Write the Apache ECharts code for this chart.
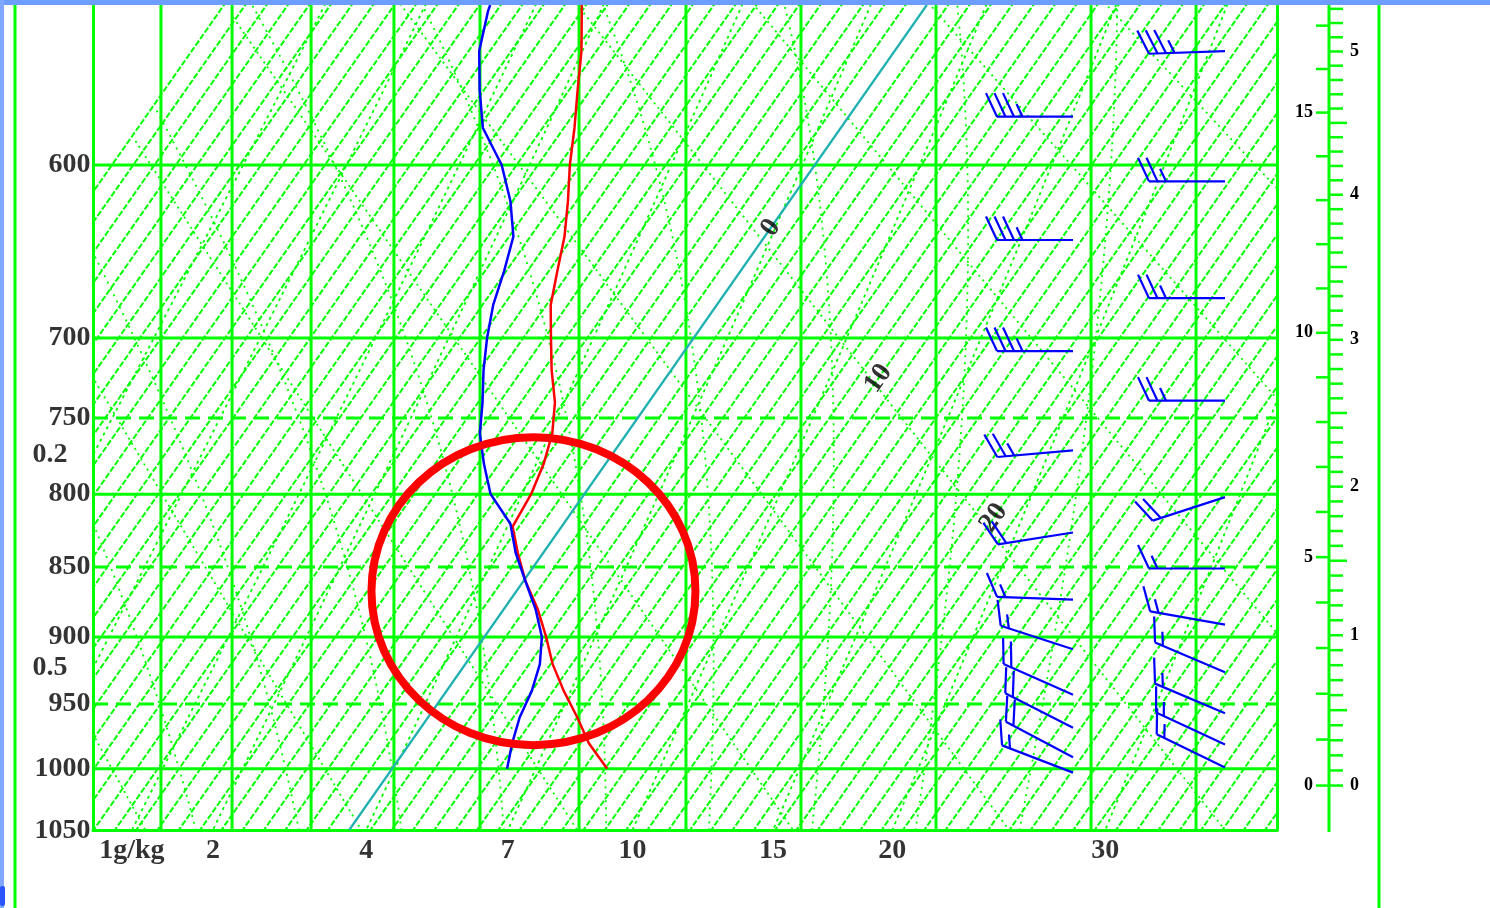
<!DOCTYPE html>
<html>
<head>
<meta charset="utf-8">
<title>Sounding</title>
<script src="https://cdn.jsdelivr.net/npm/echarts@6.0.0/dist/echarts.min.js"></script>
<style>
  html, body { margin: 0; padding: 0; background: #ffffff; }
  #chart { width: 1490px; height: 908px; }
</style>
</head>
<body>
<div id="chart"></div>
<script>
// ---------------- sounding data ----------------
// temperature profile (hPa, °C)
const tempLevels  = [517, 520, 540, 560, 580, 600, 620, 640, 660, 680, 700, 720, 740, 760, 780, 800, 822, 840, 860, 880, 900, 920, 940, 960, 980, 1000];
const temperature = [-16.2, -16.0, -14.7, -13.6, -12.5, -11.5, -10.4, -9.4, -8.6, -7.8, -6.7, -5.6, -4.4, -3.5, -2.9, -2.5, -2.3, -1.2, 0.1, 1.6, 2.9, 4.1, 5.5, 7.0, 8.4, 10.1];
// dew point profile (hPa, °C)
const dewLevels   = [517, 520, 540, 560, 580, 600, 620, 640, 660, 680, 700, 720, 740, 760, 780, 800, 820, 840, 860, 880, 900, 920, 940, 960, 980, 1000];
const dewpoint    = [-20.5, -20.4, -19.5, -18.2, -16.8, -14.7, -13.1, -11.8, -11.1, -10.5, -9.7, -8.8, -7.8, -6.9, -5.7, -4.4, -2.5, -1.3, 0.1, 1.5, 2.7, 3.5, 4.0, 4.3, 4.8, 5.4];

// winds, first column (hPa, direction deg, speed kt)
const windPressA = [574, 642, 708, 771, 826, 873, 909, 943, 968, 991, 1003];
const windDirA   = [270, 270, 270, 265, 261, 272, 288, 294, 297, 298, 291];
const windSpdA   = [35, 35, 35, 25, 20, 15, 15, 20, 20, 20, 15];
// winds, second column
const windPressB = [540, 609, 676, 739, 802, 851, 891, 926, 957, 981, 999];
const windDirB   = [268, 270, 270, 270, 252, 270, 280, 293, 293, 295, 296];
const windSpdB   = [35, 25, 25, 25, 20, 15, 15, 15, 15, 15, 15];

// pressure grid and tick labels
const solidIsobars  = [600, 700, 800, 900, 1000];
const dashedIsobars = [750, 850, 950];
const pressureTicks = [600, 700, 750, 800, 850, 900, 950, 1000, 1050];
// extra vertical guide lines (skewed-temperature units)
const guideX = [-10.85, -7.51, -3.80, 0.09, 4.13, 8.78, 13.80, 19.20, 25.54, 32.82, 37.75];
// mixing ratio lines labelled along the base (g/kg, base temperature °C)
const mixRatio     = [1, 2, 4, 7, 10, 15, 20, 30];
const mixBaseTemp  = [-10.2, -6.4, 0.8, 7.45, 13.3, 19.9, 25.5, 35.5];
// mixing ratio lines labelled on the left edge (g/kg, hPa)
const mixLeftRatio = [0.2, 0.5];
const mixLeftPress = [774, 923];
// isotherm labels (°C, hPa)
const isoLabelTemp  = [0, 10, 20];
const isoLabelPress = [635, 725, 816];
// height scale
const kmLabels  = [0, 1, 2, 3, 4, 5];
const kftLabels = [0, 5, 10, 15];
// highlighted layer (°C, hPa)
const focusPoint = [0.8, 867];

// ---------------- diagram geometry ----------------
const KAPPA = 0.286;
const P_TOP = 517, P_BOT = 1049;
const X_MIN = -14.04, X_MAX = 41.55;   // skewed temperature (°C at 1000 hPa)
const SKEW = 20.25;                    // °C shift per unit of p^kappa
const zOf = p => Math.pow(p, KAPPA);
const Z1000 = zOf(1000);
const pt = (t, p) => [t + SKEW * (Z1000 - zOf(p)), zOf(p)];
const T_COLD = -33;

const GREEN = '#00ff00';

function satVap(t) { return 6.112 * Math.exp(17.67 * t / (t + 243.5)); }
function satMix(t, p) { const e = satVap(t); return 0.622 * e / (p - e); }
function moistLapse(t, p) {
  const T = t + 273.15, rs = satMix(t, p);
  const Rd = 287.04, cp = 1005.7, Lv = 2.501e6, eps = 0.622;
  return (Rd * T + Lv * rs) / (p * (cp + Lv * Lv * rs * eps / (Rd * T * T)));
}
function dewFromMix(w, p) {
  const e = w * p / (622 + w);
  const l = Math.log(e / 6.112);
  return 243.5 * l / (17.67 - l);
}

// isotherms every 1 °C
const isotherms = [];
for (let t = T_COLD; t <= 44; t++) if (t !== 0) isotherms.push([pt(t, P_TOP - 5), pt(t, P_BOT + 5)]);

// dry adiabats
const dryAdiabats = [];
for (let th = 250; th <= 340; th += 10) {
  const line = [];
  for (let p = P_TOP - 10; p <= P_BOT + 10; p += 8) {
    const t = th * Math.pow(p / 1000, 0.2857) - 273.15;
    if (t >= T_COLD) line.push(pt(t, p));
  }
  if (line.length > 1) dryAdiabats.push(line);
}

// saturated adiabats
function moistAdiabat(t0) {
  const up = [], down = [];
  let t = t0;
  for (let p = 1000; p >= P_TOP - 10; p -= 5) { if (t >= T_COLD) up.push(pt(t, p)); t -= moistLapse(t, p) * 5; }
  t = t0;
  for (let p = 1000; p <= P_BOT + 10; p += 5) { if (t >= T_COLD) down.push(pt(t, p)); t += moistLapse(t, p) * 5; }
  return down.reverse().concat(up.slice(1));
}
const moistAdiabats = [];
for (let t0 = -10; t0 <= 30; t0 += 5) moistAdiabats.push(moistAdiabat(t0));

// mixing ratio lines
function mixLine(w, t0, p0) {
  const line = [], off = t0 - dewFromMix(w, p0);
  for (let p = P_TOP - 10; p <= P_BOT + 10; p += 10) line.push(pt(dewFromMix(w, p) + off, p));
  return line;
}
const mixLines = mixRatio.map((w, i) => mixLine(w, mixBaseTemp[i], P_BOT));
mixLeftRatio.forEach((w, i) => {
  const p0 = mixLeftPress[i];
  const t0 = X_MIN - SKEW * (Z1000 - zOf(p0));
  mixLines.push(mixLine(w, t0, p0));
});

const verticals = guideX.map(x => [[x, zOf(P_TOP - 5)], [x, zOf(P_BOT + 5)]]);
const isobarLines = p => [[X_MIN, zOf(p)], [X_MAX, zOf(p)]];

function polySeries(lines, style, z, clip) {
  return {
    type: 'custom', coordinateSystem: 'cartesian2d', silent: true, z: z,
    clip: clip !== false,
    data: lines.map((_, i) => [i, 0]),
    renderItem: (params, api) => ({
      type: 'polyline',
      shape: { points: lines[params.dataIndex].map(d => api.coord(d)) },
      style: Object.assign({ fill: null }, style)
    })
  };
}

// wind barb glyph
function barbRender(offsets) {
  return (params, api) => {
    const col = api.value(0), p = api.value(1), dir = api.value(2), spd = api.value(3);
    const edge = api.coord([X_MAX, zOf(p)]);
    const sx = edge[0] - offsets[col], sy = edge[1];
    const rad = dir * Math.PI / 180;
    const ux = Math.sin(rad), uy = -Math.cos(rad);
    const L = 76, gap = 8.5;
    const tx = sx + ux * L, ty = sy + uy * L;
    const st = { stroke: '#0000ff', lineWidth: 2.2, fill: null };
    const kids = [{ type: 'line', shape: { x1: sx, y1: sy, x2: tx, y2: ty }, style: st }];
    const a = Math.atan2(uy, ux) + 65 * Math.PI / 180;
    const bx = Math.cos(a), by = Math.sin(a);
    const n = Math.round(spd / 5);
    const full = Math.floor(n / 2), half = n % 2;
    let k = 0;
    for (; k < full; k++) {
      const px = tx - ux * k * gap, py = ty - uy * k * gap;
      kids.push({ type: 'line', shape: { x1: px, y1: py, x2: px + bx * 26, y2: py + by * 26 }, style: st });
    }
    if (half) {
      if (k === 0) k = 1;
      const px = tx - ux * k * gap, py = ty - uy * k * gap;
      kids.push({ type: 'line', shape: { x1: px, y1: py, x2: px + bx * 14, y2: py + by * 14 }, style: st });
    }
    return { type: 'group', children: kids };
  };
}

const isaP = h => 1013.25 * Math.pow(1 - 2.25577e-5 * h, 5.25588);

const labelFont = { color: '#000', fontFamily: 'Liberation Serif', fontSize: 28, fontWeight: 'bold' };

const chart = echarts.init(document.getElementById('chart'), null, { renderer: 'canvas' });

const axisCommon = {
  type: 'value', axisTick: { show: false }, axisLabel: { show: false }, splitLine: { show: false }
};

chart.setOption({
  animation: false,
  backgroundColor: '#ffffff',
  grid: { left: 93, top: 5, width: 1184, height: 825, containLabel: false },
  xAxis: Object.assign({}, axisCommon, {
    min: X_MIN, max: X_MAX,
    axisLine: { show: true, onZero: false, lineStyle: { color: GREEN, width: 3 } }
  }),
  yAxis: [
    Object.assign({}, axisCommon, {
      inverse: true, min: zOf(P_TOP), max: zOf(P_BOT), position: 'left',
      axisLine: { show: true, onZero: false, lineStyle: { color: GREEN, width: 3 } }
    }),
    Object.assign({}, axisCommon, {
      inverse: true, min: zOf(P_TOP), max: zOf(P_BOT), position: 'right',
      axisLine: { show: true, onZero: false, lineStyle: { color: GREEN, width: 3 } }
    })
  ],
  graphic: [
    { type: 'line', z: 50, shape: { x1: 15, y1: 0, x2: 15, y2: 908 }, style: { stroke: GREEN, lineWidth: 3 } },
    { type: 'line', z: 50, shape: { x1: 1379, y1: 0, x2: 1379, y2: 908 }, style: { stroke: GREEN, lineWidth: 3 } },
    { type: 'rect', z: 100, shape: { x: 0, y: 0, width: 1490, height: 5 }, style: { fill: '#6c9dff' } },
    { type: 'rect', z: 100, shape: { x: 0, y: 0, width: 4, height: 908 }, style: { fill: '#80a8ff' } },
    { type: 'rect', z: 100, shape: { x: 0, y: 886, width: 5, height: 20, r: 2 }, style: { fill: '#2a55ff' } }
  ],
  series: [
    // isotherm hatching
    polySeries(isotherms, { stroke: GREEN, lineWidth: 2, lineDash: [6, 2] }, 1),
    // adiabats and mixing ratio lines
    polySeries(dryAdiabats, { stroke: GREEN, lineWidth: 1.8, lineDash: [2, 4] }, 1),
    polySeries(moistAdiabats, { stroke: GREEN, lineWidth: 1.8, lineDash: [2, 5] }, 1),
    polySeries(mixLines, { stroke: GREEN, lineWidth: 1.8, lineDash: [3, 4] }, 1),
    // grid
    polySeries(verticals, { stroke: GREEN, lineWidth: 3 }, 2),
    polySeries(solidIsobars.map(isobarLines), { stroke: GREEN, lineWidth: 3 }, 2),
    polySeries(dashedIsobars.map(isobarLines), { stroke: GREEN, lineWidth: 3, lineDash: [15, 8] }, 2),
    // 0 °C isotherm
    {
      type: 'line', z: 4, silent: true, showSymbol: false, symbol: 'none',
      data: [pt(0, P_TOP), pt(0, P_BOT)],
      lineStyle: { color: '#20b0b0', width: 2.2 }
    },
    // temperature
    {
      type: 'line', z: 5, silent: true, showSymbol: false, symbol: 'none',
      data: tempLevels.map((p, i) => pt(temperature[i], p)),
      lineStyle: { color: '#ff0000', width: 2.5 }
    },
    // dew point
    {
      type: 'line', z: 5, silent: true, showSymbol: false, symbol: 'none',
      data: dewLevels.map((p, i) => pt(dewpoint[i], p)),
      lineStyle: { color: '#0000ff', width: 2.5 }
    },
    // pressure labels
    {
      type: 'scatter', z: 6, silent: true, clip: false, symbolSize: 1, itemStyle: { color: 'rgba(0,0,0,0)' },
      data: pressureTicks.map(p => [X_MIN, zOf(p), p]),
      label: Object.assign({ show: true, position: 'left', distance: 2, formatter: d => String(d.value[2]) }, labelFont)
    },
    // left-edge mixing ratio labels
    {
      type: 'scatter', z: 6, silent: true, clip: false, symbolSize: 1, itemStyle: { color: 'rgba(0,0,0,0)' },
      data: mixLeftPress.map((p, i) => [X_MIN, zOf(p), mixLeftRatio[i]]),
      label: Object.assign({ show: true, position: 'left', distance: 25, formatter: d => String(d.value[2]) }, labelFont)
    },
    // base mixing ratio labels
    {
      type: 'scatter', z: 6, silent: true, clip: false, symbolSize: 1, itemStyle: { color: 'rgba(0,0,0,0)' },
      data: mixRatio.map((w, i) => [pt(mixBaseTemp[i], P_BOT)[0], zOf(P_BOT), w]),
      label: Object.assign({
        show: true, position: 'bottom', distance: 6,
        formatter: d => d.dataIndex === 0 ? d.value[2] + 'g/kg' : String(d.value[2])
      }, labelFont)
    },
    // isotherm labels
    {
      type: 'scatter', z: 6, silent: true, clip: false, symbolSize: 1, itemStyle: { color: 'rgba(0,0,0,0)' },
      data: isoLabelTemp.map((t, i) => pt(t, isoLabelPress[i]).concat([t])),
      label: {
        show: true, position: 'inside', rotate: 55, formatter: d => String(d.value[2]),
        color: '#000', fontFamily: 'Liberation Serif', fontSize: 28, fontWeight: 'bold'
      }
    },
    // height scale (standard atmosphere)
    {
      type: 'custom', z: 6, silent: true, clip: false,
      data: [[X_MAX, zOf(P_TOP)]],
      renderItem: (params, api) => {
        const top = api.coord([X_MAX, zOf(P_TOP)]);
        const bot = api.coord([X_MAX, zOf(P_BOT)]);
        const ax = top[0] + 52;
        const yAt = h => api.coord([X_MAX, zOf(isaP(h))])[1];
        const st = { stroke: GREEN, lineWidth: 3, fill: null };
        const kids = [{ type: 'line', shape: { x1: ax, y1: top[1], x2: ax, y2: bot[1] + 2 }, style: st }];
        for (let i = 0; i <= 53; i++) {
          const y = yAt(i * 100);
          const len = (i % 5 === 0 && i % 10 !== 0) ? 18 : 14;
          kids.push({ type: 'line', shape: { x1: ax, y1: y, x2: ax + len, y2: y }, style: { stroke: GREEN, lineWidth: 2.5 } });
        }
        for (let k = 0; k <= 17; k++) {
          const y = yAt(k * 304.8);
          kids.push({ type: 'line', shape: { x1: ax - 13, y1: y, x2: ax, y2: y }, style: { stroke: GREEN, lineWidth: 2.5 } });
        }
        kmLabels.forEach(km => kids.push({
          type: 'text', style: { x: ax + 21, y: yAt(km * 1000), text: String(km), align: 'left', verticalAlign: 'middle',
            fill: '#000', font: 'bold 18px "Liberation Serif"' }
        }));
        kftLabels.forEach(k => kids.push({
          type: 'text', style: { x: ax - 16, y: yAt(k * 304.8), text: String(k), align: 'right', verticalAlign: 'middle',
            fill: '#000', font: 'bold 18px "Liberation Serif"' }
        }));
        return { type: 'group', children: kids };
      }
    },
    // wind barbs
    {
      type: 'custom', z: 7, silent: true, clip: false,
      data: windPressA.map((p, i) => [0, p, windDirA[i], windSpdA[i]])
        .concat(windPressB.map((p, i) => [1, p, windDirB[i], windSpdB[i]])),
      renderItem: barbRender([204, 52])
    },
    // highlighted layer
    {
      type: 'custom', z: 8, silent: true, clip: false,
      data: [pt(focusPoint[0], focusPoint[1])],
      renderItem: (params, api) => {
        const c = api.coord([api.value(0), api.value(1)]);
        return {
          type: 'ellipse',
          shape: { cx: c[0], cy: c[1], rx: 162, ry: 154 },
          style: { stroke: '#ff0000', lineWidth: 8, fill: null }
        };
      }
    }
  ]
});
</script>
</body>
</html>
